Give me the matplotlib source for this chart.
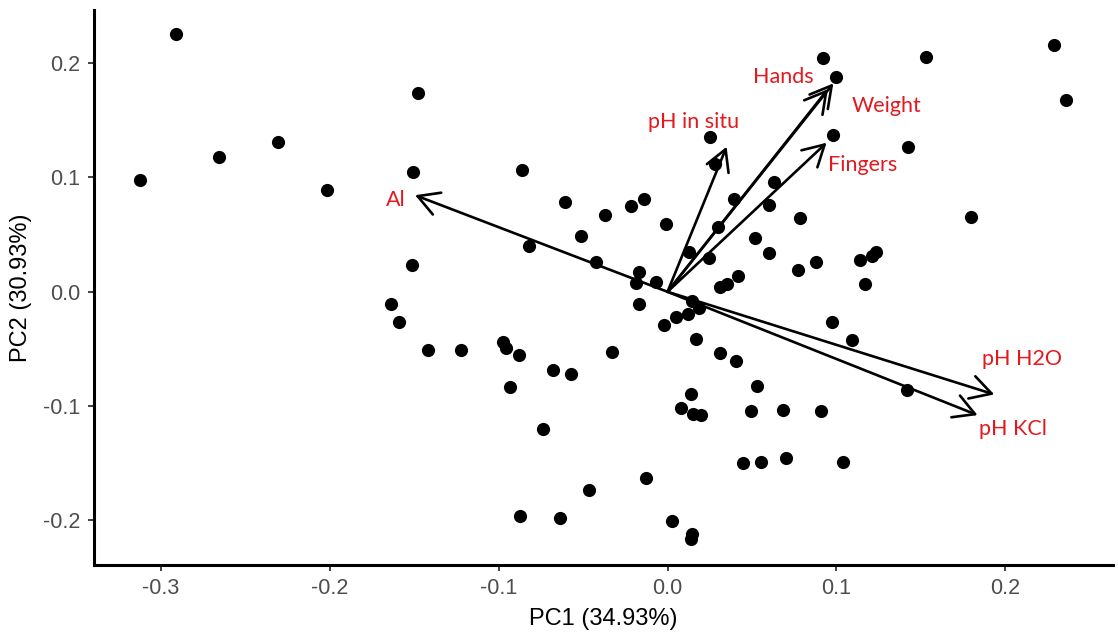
import matplotlib
matplotlib.use("Agg")
import matplotlib.pyplot as plt
from matplotlib.patches import FancyArrowPatch

# PCA scores of the individual samples (PC1, PC2)
pc1 = [-0.2912, -0.3121, -0.2654, -0.2306, -0.2014, -0.1475, -0.1505, -0.1513,
       -0.0863, -0.0607, -0.0218, -0.0141, -0.0368, -0.0009, -0.0512, -0.0822,
       -0.0425, -0.0171, -0.0185, -0.0068,
       -0.1637, -0.1588, -0.1420, -0.1225, -0.0972, -0.0956, -0.0881, -0.0933,
       -0.0680, -0.0573, -0.0329, -0.0735, -0.0129, -0.0465, -0.0875, -0.0638,
       0.0025, -0.0171, -0.0022,
       0.0049, 0.0143, 0.0188, 0.0123, 0.0169, 0.0313, 0.0406, 0.0972, 0.1091,
       0.1416, 0.0528, 0.0139, 0.0078, 0.0149, 0.0200, 0.0494, 0.0682, 0.0911,
       0.0447, 0.0554, 0.0700, 0.1037, 0.0147, 0.0139,
       0.0919, 0.1529, 0.0998, 0.0980, 0.1426, 0.0250, 0.0283, 0.0629, 0.0394,
       0.0603, 0.0786, 0.0299, 0.0518, 0.0125, 0.0599, 0.0246, 0.0877, 0.0775,
       0.1140, 0.1209, 0.1234, 0.1171, 0.0416, 0.0350, 0.0311, 0.2288, 0.2361,
       0.1795]
pc2 = [0.2255, 0.0977, 0.1176, 0.1307, 0.0890, 0.1741, 0.1047, 0.0231,
       0.1067, 0.0785, 0.0752, 0.0808, 0.0674, 0.0590, 0.0485, 0.0402,
       0.0262, 0.0175, 0.0073, 0.0087,
       -0.0108, -0.0262, -0.0513, -0.0510, -0.0443, -0.0490, -0.0551, -0.0837,
       -0.0685, -0.0723, -0.0528, -0.1201, -0.1630, -0.1732, -0.1962, -0.1980,
       -0.2004, -0.0108, -0.0294,
       -0.0224, -0.0079, -0.0145, -0.0195, -0.0414, -0.0534, -0.0606, -0.0268, -0.0423,
       -0.0860, -0.0828, -0.0898, -0.1020, -0.1070, -0.1076, -0.1041, -0.1035, -0.1041,
       -0.1501, -0.1487, -0.1458, -0.1493, -0.2120, -0.2166,
       0.2042, 0.2051, 0.1881, 0.1374, 0.1263, 0.1353, 0.1115, 0.0962, 0.0814,
       0.0759, 0.0642, 0.0563, 0.0467, 0.0350, 0.0336, 0.0292, 0.0260, 0.0190,
       0.0277, 0.0312, 0.0350, 0.0067, 0.0137, 0.0067, 0.0038, 0.2158, 0.1677,
       0.0651]

# Variable loadings (arrow tips) and where each name is written
variables = ["Al", "pH in situ", "Hands", "Weight", "Fingers", "pH H2O", "pH KCl"]
load_pc1 = [-0.1495, 0.0350, 0.0982, 0.0950, 0.0942, 0.1935, 0.1836]
load_pc2 = [0.0845, 0.1269, 0.1823, 0.1773, 0.1304, -0.0898, -0.1079]
label_x = [-0.161, 0.0157, 0.0688, 0.1298, 0.1155, 0.2099, 0.2043]
label_y = [0.0807, 0.1485, 0.1878, 0.1625, 0.1109, -0.0589, -0.1201]

x_ticks = [-0.3, -0.2, -0.1, 0.0, 0.1, 0.2]
y_ticks = [-0.2, -0.1, 0.0, 0.1, 0.2]
x_title = "PC1 (34.93%)"
y_title = "PC2 (30.93%)"

plt.rcParams["font.family"] = ["Liberation Sans", "DejaVu Sans"]

fig = plt.figure(figsize=(11.18, 6.34), dpi=100)
ax = fig.add_axes([94 / 1118, 69 / 634, 1019 / 1118, 555 / 634])

ax.scatter(pc1, pc2, s=90, color="black", linewidths=0, zorder=3)

for vx, vy in zip(load_pc1, load_pc2):
    arr = FancyArrowPatch((0, 0), (vx, vy),
                          arrowstyle="->,head_length=0.75,head_width=0.42",
                          mutation_scale=20, lw=1.9, color="black",
                          shrinkA=0, shrinkB=0, zorder=4)
    ax.add_patch(arr)

for name, tx, ty in zip(variables, label_x, label_y):
    ax.text(tx, ty, name, color="#e3191e", fontsize=15.5,
            family=["Lato", "DejaVu Sans"], ha="center", va="center", zorder=5)

ax.set_xlim(-0.3396, 0.2638)
ax.set_ylim(-0.239, 0.2465)
ax.set_xticks(x_ticks)
ax.set_yticks(y_ticks)
ax.set_xticklabels([f"{v:.1f}" for v in x_ticks])
ax.set_yticklabels([f"{v:.1f}" for v in y_ticks])

for side in ("top", "right"):
    ax.spines[side].set_visible(False)
for side in ("left", "bottom"):
    ax.spines[side].set_linewidth(2.2)
    ax.spines[side].set_color("black")

ax.tick_params(axis="both", length=4, width=1.3, color="#333333",
               labelcolor="#4d4d4d", labelsize=15.5)
ax.tick_params(axis="x", pad=5)
ax.tick_params(axis="y", pad=6)

ax.set_xlabel(x_title, fontsize=17, color="black")
ax.set_ylabel(y_title, fontsize=17, color="black")
ax.xaxis.set_label_coords(0.5, -0.077)
ax.yaxis.set_label_coords(-0.061, 0.5)

fig.savefig("out.png", dpi=100)
